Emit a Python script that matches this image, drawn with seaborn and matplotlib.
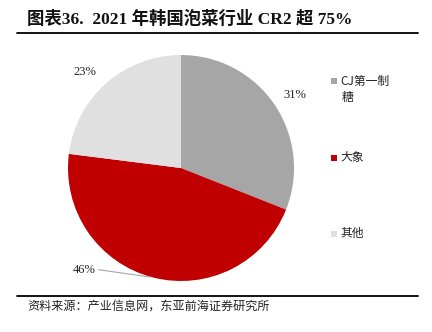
import matplotlib
matplotlib.use("Agg")
import matplotlib.pyplot as plt
import seaborn as sns
from matplotlib.lines import Line2D

sns.set_theme(style="white")
plt.rcParams['font.family'] = ['Noto Sans CJK SC', 'DejaVu Sans']

categories = ["CJ第一制\n糖", "大象", "其他"]
values = [31, 46, 23]
pct_labels = ["31%", "46%", "23%"]
colors = ["#a6a6a6", "#c00000", "#e0e0e0"]

W, H = 432, 332
fig = plt.figure(figsize=(W / 100, H / 100), dpi=100)

cx, cy, r = 181, 168, 113
ax = fig.add_axes([(cx - r) / W, (H - cy - r) / H, 2 * r / W, 2 * r / H])
wedges, _ = ax.pie(values, colors=colors, startangle=90, counterclock=False,
                   radius=1, wedgeprops=dict(linewidth=0))
ax.set_xlim(-1, 1)
ax.set_ylim(-1, 1)
ax.set_aspect("equal")
ax.axis("off")

serif = ['Liberation Serif', 'Noto Sans CJK SC']
lab_pos = [(1.01, 0.65), (-0.86, -0.90), (-0.85, 0.85)]
for (x, y), t in zip(lab_pos, pct_labels):
    ax.text(x, y, t, ha="center", va="center", fontsize=9, family=serif, color="#222222")
ax.plot([-0.73, -0.27], [-0.90, -0.965], color="#a6a6a6", lw=0.8, clip_on=False)

# legend entries
leg_y = [81, 157, 233]
for w, lab, y in zip(wedges, categories, leg_y):
    first = lab.split("\n")[0]
    fig.patches.append(plt.Rectangle(((331) / W, (H - y - 3.5) / H), 6 / W, 6 / H,
                                     transform=fig.transFigure, color=w.get_facecolor(), lw=0))
    fig.text(340 / W, 1 - y / H, first, ha="left", va="center", fontsize=8.5, color="#222222")
fig.text(342 / W, 1 - 98 / H, categories[0].split("\n")[1], ha="left", va="center", fontsize=8.5, color="#222222")

# title and rules
fig.text(27 / W, 1 - 19 / H, "图表36.  2021 年韩国泡菜行业 CR2 超 75%", ha="left", va="center",
         fontsize=12.5, fontweight="bold", family=serif, color="#111111")
fig.add_artist(Line2D([17 / W, 418 / W], [1 - 33 / H, 1 - 33 / H], color="black", lw=1.3))
fig.add_artist(Line2D([17 / W, 418 / W], [1 - 296 / H, 1 - 296 / H], color="black", lw=1.3))
fig.text(27 / W, 1 - 306 / H, "资料来源：产业信息网，东亚前海证券研究所", ha="left", va="center",
         fontsize=8.7, color="#222222")

fig.savefig("out.png", dpi=100)
